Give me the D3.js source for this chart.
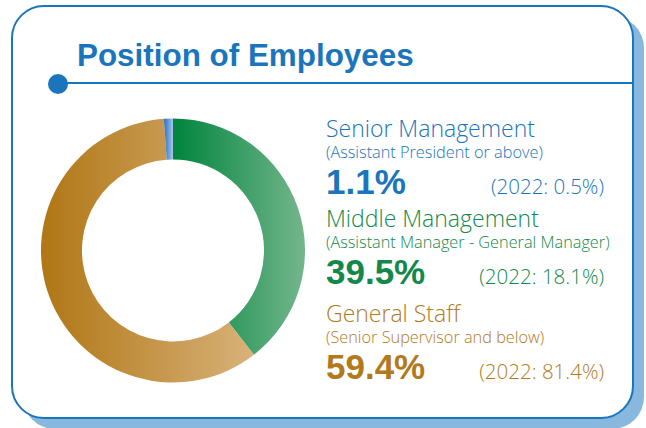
<!DOCTYPE html>
<html>
<head>
<meta charset="utf-8">
<script src="https://cdn.jsdelivr.net/npm/d3@7"></script>
<style>
  body { margin: 0; background: #fff; }
  svg { display: block; }
</style>
</head>
<body>
<script>
// Data
var categories = ["Middle Management", "General Staff", "Senior Management"];
var subtitles = ["(Assistant Manager - General Manager)", "(Senior Supervisor and below)", "(Assistant President or above)"];
var values2023 = [39.5, 59.4, 1.1];
var labels2022 = ["(2022: 18.1%)", "(2022: 81.4%)", "(2022: 0.5%)"];
var colorsDark = ["#00843d", "#b07614", "#2a6fc0"];
var colorsLight = ["#74b68c", "#d8b27a", "#a8c6ea"];
var textColors = ["#12894a", "#b27a1c", "#1b75bc"];
var legendOrder = [2, 0, 1]; // Senior, Middle, General

var W = 646, H = 428;
var blue = "#1b75bc";

var svg = d3.select("body")
  .append("svg")
  .attr("width", W)
  .attr("height", H);

// Card with shadow
svg.append("rect")
  .attr("x", 23).attr("y", 16)
  .attr("width", 621).attr("height", 413)
  .attr("rx", 32).attr("ry", 32)
  .attr("fill", "#88b8de");
svg.append("rect")
  .attr("x", 12).attr("y", 6)
  .attr("width", 621).attr("height", 412)
  .attr("rx", 32).attr("ry", 32)
  .attr("fill", "#fff")
  .attr("stroke", blue)
  .attr("stroke-width", 2);

// Title
svg.append("text")
  .attr("x", 77).attr("y", 66)
  .attr("fill", blue)
  .style("font-family", "'Liberation Sans', Arial, sans-serif")
  .style("font-weight", "bold")
  .style("font-size", "31.4px")
  .text("Position of Employees");

svg.append("line")
  .attr("x1", 58).attr("x2", 633)
  .attr("y1", 83).attr("y2", 83)
  .attr("stroke", blue).attr("stroke-width", 2);
svg.append("circle")
  .attr("cx", 58).attr("cy", 84).attr("r", 10)
  .attr("fill", blue);

// Donut
var cx = 173, cy = 250.5, rOuter = 132, rInner = 91;
var pie = d3.pie().sort(null).value(function(d){ return d; });
var arc = d3.arc().innerRadius(rInner).outerRadius(rOuter);
var arcs = pie(values2023);

var defs = svg.append("defs");
arcs.forEach(function(a, i){
  // horizontal extent of the slice (local coords, centre at 0,0)
  var xs = [];
  var n = 60;
  for (var k = 0; k <= n; k++) {
    var ang = a.startAngle + (a.endAngle - a.startAngle) * k / n;
    xs.push(Math.sin(ang) * rOuter, Math.sin(ang) * rInner);
  }
  var g = defs.append("linearGradient")
    .attr("id", "grad" + i)
    .attr("gradientUnits", "userSpaceOnUse")
    .attr("x1", d3.min(xs)).attr("x2", d3.max(xs))
    .attr("y1", 0).attr("y2", 0);
  g.append("stop").attr("offset", "0%").attr("stop-color", colorsDark[i]);
  g.append("stop").attr("offset", "100%").attr("stop-color", colorsLight[i]);
});

svg.append("g")
  .attr("transform", "translate(" + cx + "," + cy + ")")
  .selectAll("path")
  .data(arcs)
  .enter()
  .append("path")
  .attr("d", arc)
  .attr("fill", function(d, i){ return "url(#grad" + i + ")"; });

// Legend text
var font = "'Open Sans', Roboto, sans-serif";
var rows = [137, 227, 322];
legendOrder.forEach(function(i, r){
  var y = rows[r];
  var g = svg.append("g").attr("fill", textColors[i]).style("font-family", font);
  g.append("text")
    .attr("x", 326).attr("y", y)
    .style("font-size", "23px").style("font-weight", 300)
    .text(categories[i]);
  g.append("text")
    .attr("x", 326).attr("y", y + 21)
    .style("font-size", "16.3px").style("font-weight", 300)
    .text(subtitles[i]);
  g.append("text")
    .attr("x", 326).attr("y", y + 57)
    .style("font-family", "'Liberation Sans', Arial, sans-serif")
    .style("font-size", "35px").style("font-weight", "bold")
    .text(values2023[i] + "%");
  g.append("text")
    .attr("x", 604).attr("y", y + 57)
    .attr("text-anchor", "end")
    .style("font-size", "20.5px").style("font-weight", 300)
    .text(labels2022[i]);
});
</script>
</body>
</html>
